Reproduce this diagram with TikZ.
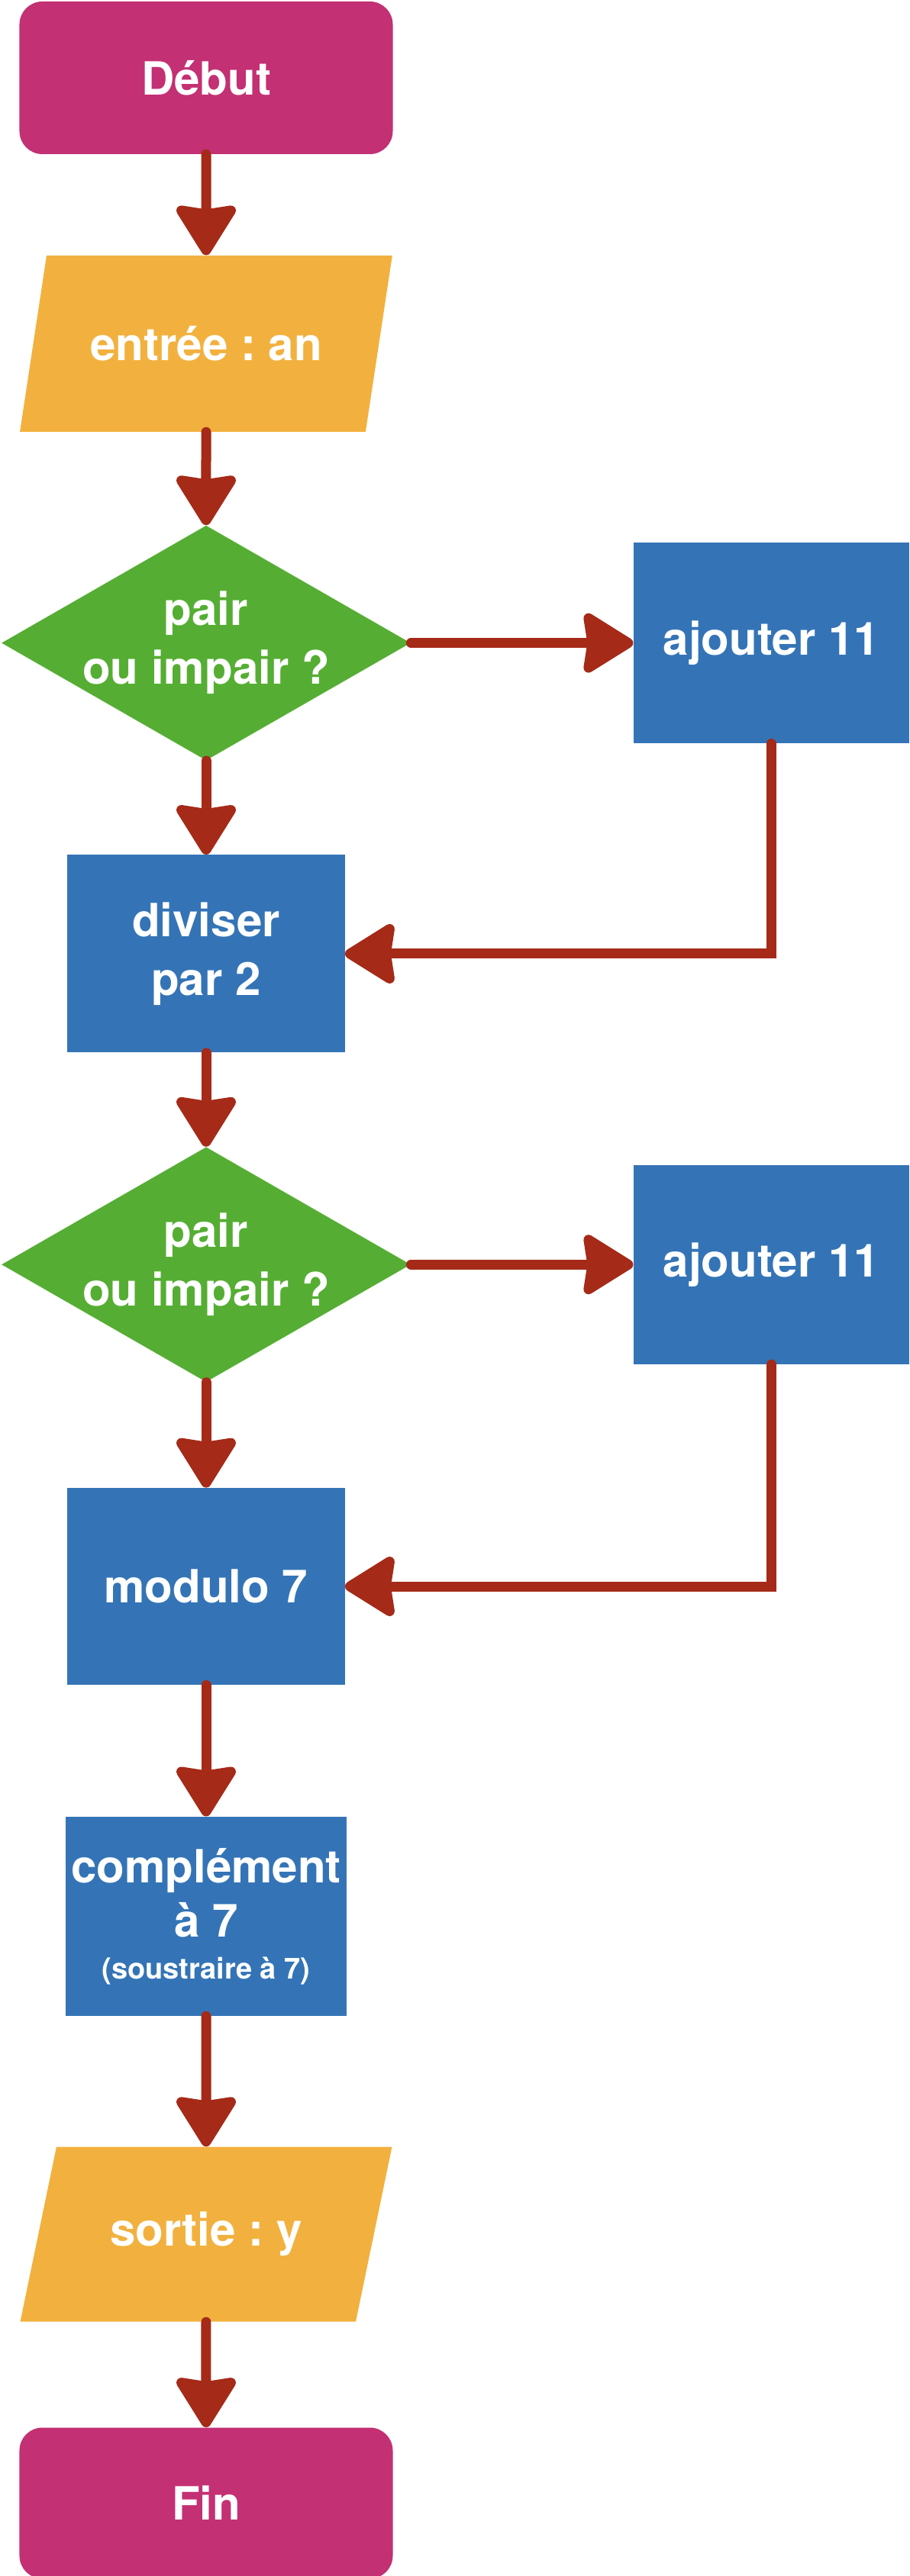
\documentclass[tikz,border=0pt]{standalone}
\usepackage{fontspec}
\setmainfont{TeX Gyre Heros}
\usetikzlibrary{positioning,shapes.geometric,arrows.meta}

\definecolor{debutfin}{RGB}{195,48,116}
\definecolor{entsort}{RGB}{242,177,62}
\definecolor{testvert}{RGB}{85,174,51}
\definecolor{calcbleu}{RGB}{52,116,182}
\definecolor{fleche}{RGB}{165,42,24}

\begin{document}
\frenchspacing
\begin{tikzpicture}[node distance=61.5pt,
    every node/.style={text=white,font=\fontsize{30pt}{38.5pt}\selectfont\bfseries,align=center},
    terminal/.style={fill=debutfin,rectangle,rounded corners=15pt,minimum width=244.5pt,minimum height=100pt},
    es/.style={fill=entsort,trapezium,trapezium left angle=65.8,trapezium right angle=114.2,
               trapezium stretches=true,minimum width=244pt,minimum height=115.5pt},
    test/.style={fill=testvert,diamond,shape aspect=1.74,inner sep=-12pt,minimum width=268pt,minimum height=154pt},
    calc/.style={fill=calcbleu,rectangle,minimum width=181.5pt,minimum height=129.5pt},
    flow/.style={color=fleche,line width=6.5pt,line cap=round,-{Stealth[length=36pt,width=44pt,inset=3pt,round]}}]

    \useasboundingbox (-135pt,51pt) rectangle (461pt,-1637pt);

    % Define blocks
    \node[terminal] (debut) {Début};
    \node[es] (entree) [below=66pt of debut] {entrée : an};
    \node[test] (test1) [below=61pt of entree] {pair\\ou impair ?};
    \node[calc,minimum width=180.5pt,minimum height=131.5pt] (ajout1) [right=145.5pt of test1] {ajouter 11};
    \node[calc] (diviser) [below=of test1] {diviser\\par 2};
    \node[test] (test2) [below=of diviser] {pair\\ou impair ?};
    \node[calc,minimum width=180.5pt,minimum height=130.5pt] (ajout2) [right=145.5pt of test2] {ajouter 11};
    \node[calc,minimum height=129pt] (modulo) [below=69pt of test2] {modulo 7};
    \node[calc,minimum height=130.5pt] (compl) [below=86pt of modulo]
        {complément\\[-3pt]à 7\\[-11pt]{\fontsize{19pt}{23pt}\selectfont (soustraire à 7)}};
    \node[es,minimum height=114.5pt] (sortie) [below=85.5pt of compl] {sortie : y};
    \node[terminal,minimum height=99pt] (fin) [below=69pt of sortie] {Fin};

    % Draw arrows
    \path[flow]
        (debut) edge (entree)
        (entree) edge (test1)
        (test1) edge (ajout1)
        (test1) edge (diviser)
        (diviser) edge (test2)
        (test2) edge (ajout2)
        (test2) edge (modulo)
        (modulo) edge (compl)
        (compl) edge (sortie)
        (sortie) edge (fin);
    \draw[flow] (ajout1) |- (diviser);
    \draw[flow] (ajout2) |- (modulo);

\end{tikzpicture}
\end{document}
